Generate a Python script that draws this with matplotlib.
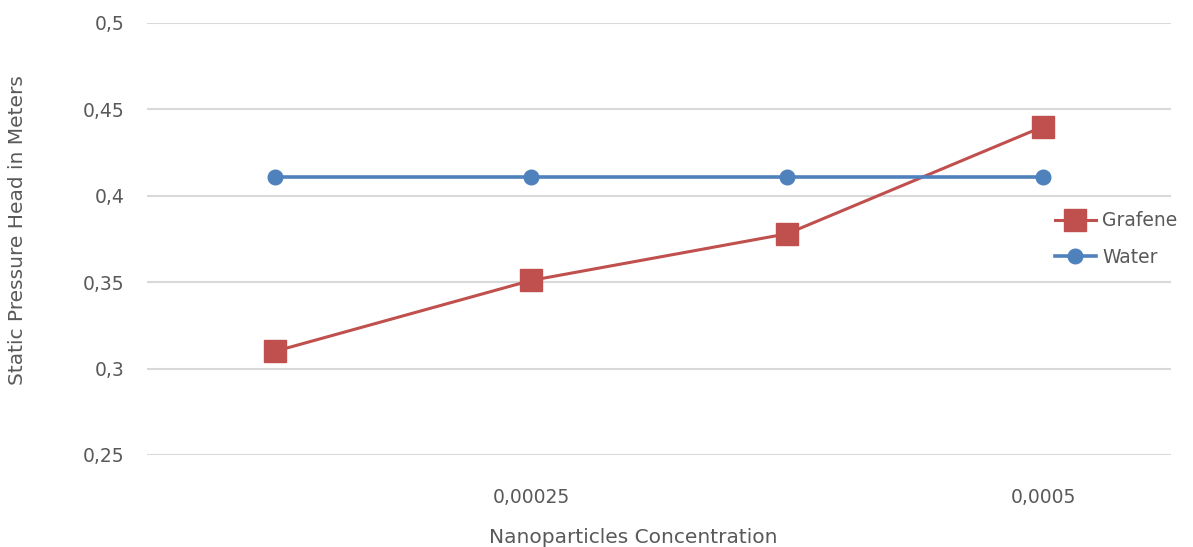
import matplotlib
matplotlib.use("Agg")
import matplotlib.pyplot as plt

# Nanoparticle concentrations (categorical axis) and measured heads
concentrations = ["0,000125", "0,00025", "0,000375", "0,0005"]
grafene = [0.310, 0.351, 0.378, 0.440]
water = [0.411, 0.411, 0.411, 0.411]

y_ticks = [0.25, 0.30, 0.35, 0.40, 0.45, 0.50]
y_tick_labels = ["0,25", "0,3", "0,35", "0,4", "0,45", "0,5"]

RED = "#C0504D"
BLUE = "#4F81BD"
TEXT = "#595959"
GRID = "#D9D9D9"

plt.rcParams["font.family"] = ["DejaVu Sans"]

fig = plt.figure(figsize=(11.93, 5.47), dpi=100)
ax = fig.add_axes([0.1232, 0.1682, 0.8584, 0.7898])

x = list(range(len(concentrations)))
ax.plot(x, grafene, color=RED, lw=2.2, marker="s", ms=16, mec=RED,
        mfc=RED, label="Grafene", zorder=3)
ax.plot(x, water, color=BLUE, lw=2.6, marker="o", ms=10.5, mec=BLUE,
        mfc=BLUE, label="Water", zorder=3)

ax.set_xlim(-0.5, len(concentrations) - 0.5)
ax.set_ylim(0.25, 0.5)
ax.set_yticks(y_ticks)
ax.set_yticklabels(y_tick_labels)

# category labels shown at every second position
shown = x[1::2]
ax.set_xticks(shown)
ax.set_xticklabels([concentrations[i] for i in shown])

ax.grid(axis="y", color=GRID, lw=1.5)
ax.set_axisbelow(True)
for s in ax.spines.values():
    s.set_visible(False)
ax.tick_params(axis="both", length=0, colors=TEXT, labelsize=13.5)
ax.tick_params(axis="y", pad=16)
ax.tick_params(axis="x", pad=24)

ax.set_xlabel("Nanoparticles Concentration", color=TEXT, fontsize=14.5, va="center")
ax.xaxis.set_label_coords(0.4746, -0.19)
ax.set_ylabel("Static Pressure Head in Meters", color=TEXT, fontsize=14.5, va="center")
ax.yaxis.set_label_coords(-0.126, 0.521)

leg = ax.legend(loc="center left", bbox_to_anchor=(0.887, 0.5), frameon=False,
                fontsize=13.5, handlelength=2.15, handletextpad=0.35,
                labelspacing=0.95, borderpad=0, borderaxespad=0)
for t in leg.get_texts():
    t.set_color(TEXT)

fig.savefig("out.png", dpi=100, facecolor="white")
